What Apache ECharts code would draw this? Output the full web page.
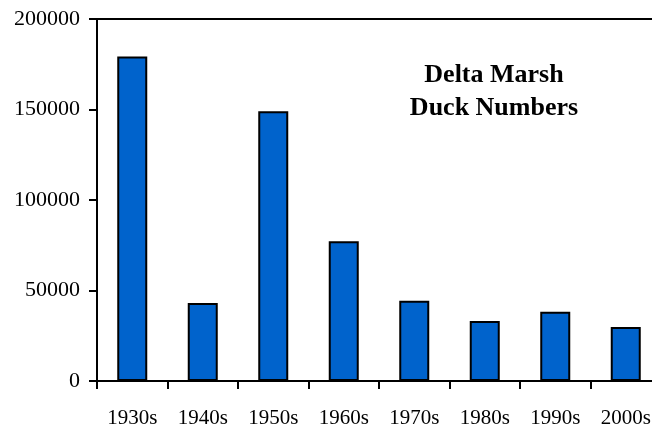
<!DOCTYPE html>
<html>
<head>
<meta charset="utf-8">
<script src="https://cdn.jsdelivr.net/npm/echarts@6/dist/echarts.min.js"></script>
<style>
  html, body { margin: 0; padding: 0; background: #fff; }
  #chart { width: 652px; height: 428px; }
</style>
</head>
<body>
<div id="chart"></div>
<script>
// decades and duck counts
var decades = ['1930s', '1940s', '1950s', '1960s', '1970s', '1980s', '1990s', '2000s'];
var ducks = [179300, 43100, 149100, 77200, 44300, 33200, 38300, 29900];
var yTicks = [0, 50000, 100000, 150000, 200000];

var serif = '"Liberation Serif", "DejaVu Serif", serif';

var chart = echarts.init(document.getElementById('chart'));

var option = {
  animation: false,
  grid: {
    left: 97, top: 19, height: 362, width: 564,
    outerBoundsMode: 'none',
    show: true, borderColor: '#000', borderWidth: 2, backgroundColor: 'transparent'
  },
  xAxis: {
    type: 'category',
    data: decades,
    axisLine: { lineStyle: { color: '#000', width: 2 } },
    axisTick: { show: true, length: 8, lineStyle: { color: '#000', width: 2 } },
    axisLabel: { color: '#000', fontFamily: serif, fontSize: 21, margin: 27 }
  },
  yAxis: {
    type: 'value',
    min: yTicks[0],
    max: yTicks[yTicks.length - 1],
    interval: 50000,
    splitLine: { show: false },
    axisLine: { show: true, lineStyle: { color: '#000', width: 2 } },
    axisTick: { show: true, length: 8, lineStyle: { color: '#000', width: 2 } },
    axisLabel: {
      color: '#000', fontFamily: serif, fontSize: 22, margin: 17,
      formatter: function (v) { return String(v); }
    }
  },
  series: [{
    type: 'bar',
    data: ducks,
    barWidth: 30,
    itemStyle: { color: '#0063CC', borderColor: '#000', borderWidth: 2 }
  }],
  graphic: [{
    type: 'text',
    x: 494,
    y: 59,
    style: {
      text: 'Delta Marsh\nDuck Numbers',
      textAlign: 'center',
      fill: '#000',
      fontFamily: serif,
      fontWeight: 'bold',
      fontSize: 26,
      lineHeight: 33
    }
  }]
};

chart.setOption(option);
</script>
</body>
</html>
